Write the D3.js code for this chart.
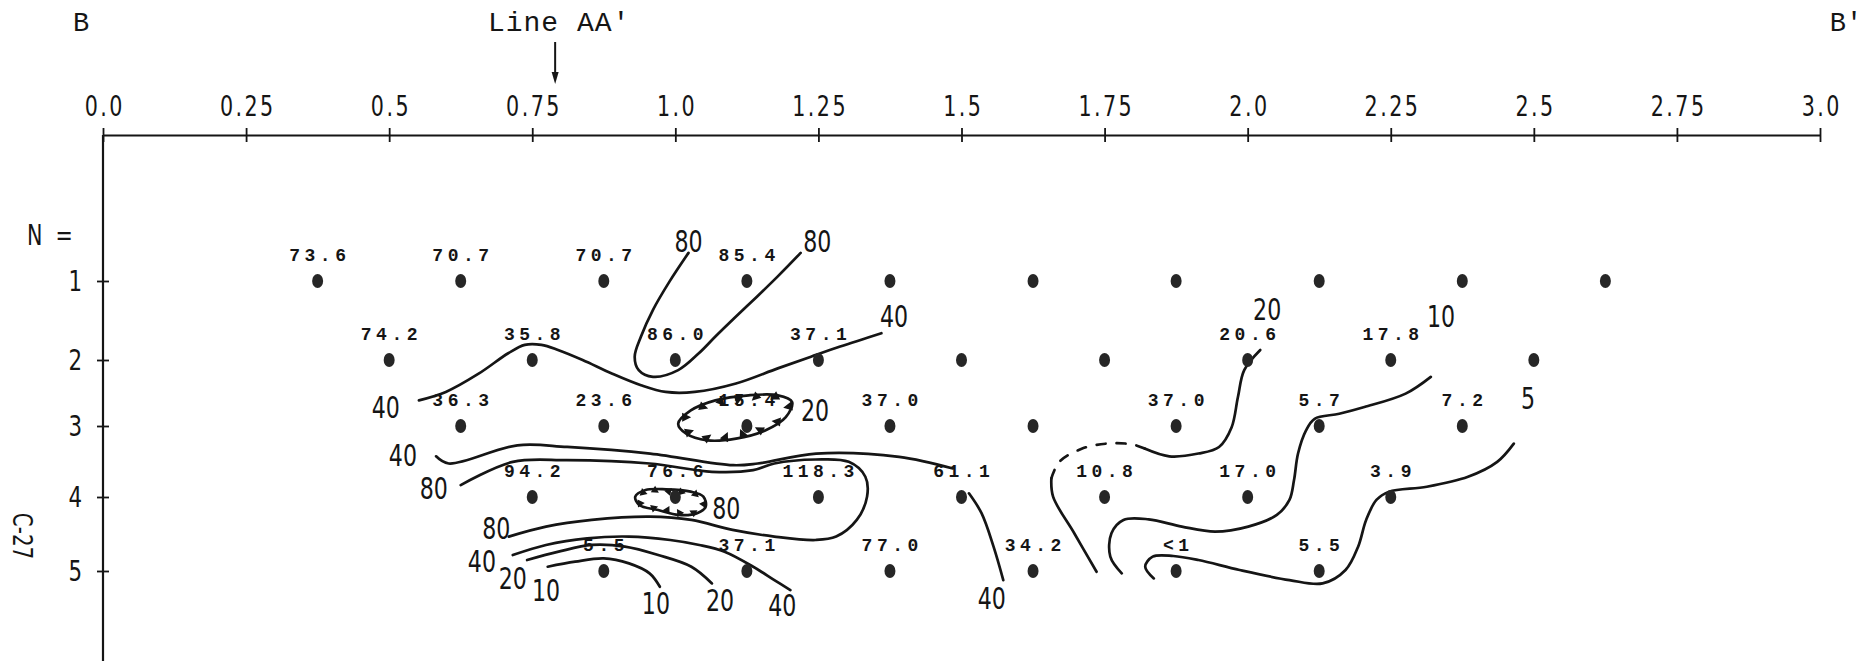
<!DOCTYPE html>
<html>
<head>
<meta charset="utf-8">
<script src="https://cdn.jsdelivr.net/npm/d3@7"></script>
<style>
  body { margin: 0; background: #fff; }
  svg { display: block; }
</style>
</head>
<body>
<svg width="1869" height="665"></svg>
<script>
// distance along line B-B' (top axis)
const distTicks = [0, 0.25, 0.5, 0.75, 1.0, 1.25, 1.5, 1.75, 2.0, 2.25, 2.5, 2.75, 3.0];
const distTickLabels = ['0.0', '0.25', '0.5', '0.75', '1.0', '1.25', '1.5', '1.75', '2.0', '2.25', '2.5', '2.75', '3.0'];
const rowTicks = [1, 2, 3, 4, 5];
const lineAAPosition = 0.79;

// sample points per N row: distance, printed value ('' = no value printed)
const row1Dist = [0.375, 0.625, 0.875, 1.125, 1.375, 1.625, 1.875, 2.125, 2.375, 2.625];
const row1Labels = ['73.6', '70.7', '70.7', '85.4', '', '', '', '', '', ''];
const row2Dist = [0.5, 0.75, 1.0, 1.25, 1.5, 1.75, 2.0, 2.25, 2.5];
const row2Labels = ['74.2', '35.8', '86.0', '37.1', '', '', '20.6', '17.8', ''];
const row3Dist = [0.625, 0.875, 1.125, 1.375, 1.625, 1.875, 2.125, 2.375];
const row3Labels = ['36.3', '23.6', '15.4', '37.0', '', '37.0', '5.7', '7.2'];
const row4Dist = [0.75, 1.0, 1.25, 1.5, 1.75, 2.0, 2.25];
const row4Labels = ['94.2', '76.6', '118.3', '61.1', '10.8', '17.0', '3.9'];
const row5Dist = [0.875, 1.125, 1.375, 1.625, 1.875, 2.125];
const row5Labels = ['5.5', '37.1', '77.0', '34.2', '<1', '5.5'];

// contour lines, [distance, N]
const contour80Top = [[1.023,0.644],[0.990,1.005],[0.961,1.365],[0.940,1.703],[0.929,1.958],[0.936,2.153],[0.961,2.255],[1.005,2.153],[1.041,1.915],[1.070,1.703],[1.106,1.45],[1.143,1.195],[1.179,0.941],[1.219,0.644]];
const contour40Upper = [[0.552,2.611],[0.599,2.484],[0.657,2.204],[0.708,1.915],[0.737,1.809],[0.766,1.809],[0.795,1.873],[0.838,2.0],[0.889,2.204],[0.940,2.382],[0.983,2.484],[1.034,2.484],[1.106,2.356],[1.179,2.127],[1.237,1.958],[1.288,1.830],[1.360,1.661]];
const contour40Mid = [[0.582,3.427],[0.604,3.528],[0.724,3.272],[0.811,3.295],[0.956,3.388],[1.101,3.552],[1.144,3.528],[1.246,3.388],[1.391,3.435],[1.485,3.598]];
const contour80Loop = [[0.625,3.832],[0.716,3.505],[0.810,3.482],[0.955,3.528],[1.064,3.645],[1.136,3.622],[1.173,3.528],[1.245,3.472],[1.303,3.505],[1.332,3.715],[1.335,3.995],[1.317,4.310],[1.281,4.535],[1.245,4.581],[1.173,4.535],[1.100,4.445],[1.028,4.310],[0.955,4.266],[0.854,4.310],[0.774,4.400],[0.709,4.535]];
const contour40Low = [[0.716,4.784],[0.774,4.648],[0.846,4.558],[0.919,4.535],[0.991,4.581],[1.042,4.648],[1.086,4.739],[1.136,4.942],[1.173,5.123],[1.201,5.258]];
const contour20Low = [[0.741,4.852],[0.796,4.739],[0.854,4.648],[0.912,4.671],[0.970,4.784],[1.028,4.942],[1.064,5.168]];
const contour10Low = [[0.777,4.942],[0.825,4.874],[0.875,4.829],[0.919,4.897],[0.955,5.032],[0.973,5.213]];
const contour40Right = [[1.513,3.948],[1.535,4.219],[1.556,4.671],[1.573,5.123]];
const contour20Lower = [[1.736,5.010],[1.697,4.490],[1.660,3.995],[1.657,3.738]];
const contour20Dashed = [[1.657,3.738],[1.671,3.505],[1.711,3.318],[1.754,3.248],[1.798,3.258],[1.820,3.318]];
const contour20Upper = [[1.820,3.318],[1.863,3.427],[1.914,3.388],[1.950,3.295],[1.972,3.017],[1.983,2.560],[1.994,2.153],[2.022,1.873]];
const contour10Right = [[2.320,2.255],[2.276,2.509],[2.204,2.713],[2.160,2.815],[2.117,2.891],[2.102,3.062],[2.088,3.388],[2.081,3.762],[2.073,4.040],[2.051,4.242],[2.001,4.400],[1.943,4.468],[1.885,4.400],[1.827,4.302],[1.783,4.310],[1.762,4.490],[1.760,4.806],[1.780,5.032]];
const contour5Right = [[2.465,3.248],[2.436,3.505],[2.385,3.715],[2.313,3.855],[2.247,3.925],[2.225,4.040],[2.207,4.310],[2.193,4.671],[2.171,4.987],[2.131,5.168],[2.073,5.123],[1.986,4.987],[1.914,4.852],[1.870,4.797],[1.834,4.806],[1.821,4.942],[1.836,5.100]];

// closed contours: low (around 15.4) and high (around 76.6)
const closedLow20 = [[1.005,2.965],[1.027,2.764],[1.070,2.611],[1.128,2.535],[1.179,2.535],[1.204,2.636],[1.193,2.865],[1.157,3.062],[1.106,3.178],[1.056,3.202],[1.019,3.108]];
const closedHigh80 = [[0.930,3.995],[0.948,3.902],[0.984,3.892],[1.027,3.925],[1.049,3.995],[1.053,4.131],[1.038,4.219],[1.006,4.242],[0.970,4.176],[0.937,4.108]];

const contourLabels = [
  [1.023, 0.495, '80'], [1.248, 0.495, '80'], [1.382, 1.45, '40'], [0.494, 2.713, '40'],
  [1.244, 2.764, '20'], [0.524, 3.412, '40'], [0.578, 3.878, '80'], [1.089, 4.153, '80'],
  [0.687, 4.423, '80'], [0.662, 4.874, '40'], [0.716, 5.100, '20'], [0.774, 5.258, '10'],
  [0.966, 5.439, '10'], [1.078, 5.394, '20'], [1.187, 5.461, '40'], [1.553, 5.371, '40'],
  [2.034, 1.36, '20'], [2.338, 1.45, '10'], [2.490, 2.585, '5']
];

const ink = '#151515';
const narrow = "'DejaVu Sans Condensed', 'Liberation Sans Narrow', 'DejaVu Sans', sans-serif";
const typewriter = "'Liberation Mono', 'DejaVu Sans Mono', monospace";
const squeeze = 0.82;

const svg = d3.select('svg');

const x = d3.scaleLinear().domain([0, 3]).range([103, 1820]);
const y = d3.scaleLinear().domain(rowTicks).range([281, 360, 426, 497, 571]);

const samples = [];
[[row1Dist, row1Labels], [row2Dist, row2Labels], [row3Dist, row3Labels],
 [row4Dist, row4Labels], [row5Dist, row5Labels]].forEach(([dists, labels], i) => {
  dists.forEach((d, j) => samples.push({ dist: d, n: i + 1, label: labels[j] }));
});

// top axis
const xAxis = d3.axisTop(x)
  .tickValues(distTicks)
  .tickFormat((d, i) => distTickLabels[i])
  .tickSize(7)
  .tickSizeOuter(0)
  .tickPadding(12);

const gx = svg.append('g')
  .attr('transform', 'translate(0,135)')
  .call(xAxis);
gx.select('.domain').attr('stroke', ink).attr('stroke-width', 2.2);
gx.selectAll('.tick line').attr('y1', 7).attr('y2', -7).attr('stroke', ink).attr('stroke-width', 1.8);
gx.selectAll('.tick text')
  .attr('fill', ink)
  .attr('font-family', narrow)
  .attr('font-size', 28)
  .attr('letter-spacing', 3)
  .attr('dx', 1.5)
  .attr('transform', `scale(${squeeze},1)`);

// left axis
const yAxis = d3.axisLeft(y)
  .tickValues(rowTicks)
  .tickFormat(d3.format('d'))
  .tickSize(6)
  .tickSizeOuter(0)
  .tickPadding(15);

const gy = svg.append('g')
  .attr('transform', `translate(${x(0)},0)`)
  .call(yAxis);
gy.select('.domain').attr('d', 'M0,135V661').attr('stroke', ink).attr('stroke-width', 2.2);
gy.selectAll('.tick line').attr('x1', 6).attr('x2', -6).attr('stroke', ink).attr('stroke-width', 1.8);
gy.selectAll('.tick text')
  .attr('fill', ink)
  .attr('font-family', narrow)
  .attr('font-size', 29)
  .attr('x', -21 / squeeze)
  .attr('transform', `scale(${squeeze},1)`);

// headings
const heads = svg.append('g').attr('fill', ink).attr('font-family', typewriter);
heads.append('text').attr('x', 81).attr('y', 31).attr('text-anchor', 'middle').attr('font-size', 27).text('B');
heads.append('text').attr('x', 1846).attr('y', 31).attr('text-anchor', 'middle').attr('font-size', 27).text("B'");
heads.append('text')
  .attr('x', x(lineAAPosition) + 4).attr('y', 31)
  .attr('text-anchor', 'middle')
  .attr('font-size', 28)
  .attr('letter-spacing', 1)
  .text("Line AA'");

const ax = x(lineAAPosition);
svg.append('line')
  .attr('x1', ax).attr('x2', ax).attr('y1', 42).attr('y2', 76)
  .attr('stroke', ink).attr('stroke-width', 2);
svg.append('path')
  .attr('d', `M${ax - 3.5},72L${ax + 3.5},72L${ax},84Z`)
  .attr('fill', ink);

svg.append('text')
  .attr('transform', `translate(27,245) scale(${squeeze},1)`)
  .attr('font-family', narrow).attr('font-size', 28).attr('fill', ink)
  .attr('xml:space', 'preserve')
  .text('N  =');

svg.append('text')
  .attr('transform', `translate(13,536) rotate(90) scale(${squeeze},1)`)
  .attr('text-anchor', 'middle')
  .attr('font-family', narrow).attr('font-size', 27).attr('fill', ink)
  .text('C-27');

// contours
const openLine = d3.line()
  .x(d => x(d[0]))
  .y(d => y(d[1]))
  .curve(d3.curveCatmullRom.alpha(0.5));
const closedLine = d3.line()
  .x(d => x(d[0]))
  .y(d => y(d[1]))
  .curve(d3.curveCatmullRomClosed.alpha(0.5));

const solidContours = [contour80Top, contour40Upper, contour40Mid, contour80Loop, contour40Low,
  contour20Low, contour10Low, contour40Right, contour20Lower, contour20Upper, contour10Right, contour5Right];

const gc = svg.append('g')
  .attr('fill', 'none')
  .attr('stroke', ink)
  .attr('stroke-width', 2.7)
  .attr('stroke-linecap', 'round')
  .attr('stroke-linejoin', 'round');

gc.selectAll('path.solid').data(solidContours).join('path')
  .attr('class', 'solid')
  .attr('d', openLine);

gc.append('path')
  .attr('d', openLine(contour20Dashed))
  .attr('stroke-dasharray', '9,11');

// closed contours with inward ticks
const hachured = [
  { pts: closedLow20, size: 9, half: 4.5, step: 20 },
  { pts: closedHigh80, size: 7, half: 4, step: 15 }
];
hachured.forEach(h => {
  const p = gc.append('path').attr('d', closedLine(h.pts));
  const node = p.node();
  const len = node.getTotalLength();
  const cx = d3.mean(h.pts, d => x(d[0]));
  const cy = d3.mean(h.pts, d => y(d[1]));
  const tris = [];
  for (let s = h.step / 2; s < len; s += h.step) {
    const pt = node.getPointAtLength(s);
    let ux = cx - pt.x, uy = cy - pt.y;
    const m = Math.hypot(ux, uy) || 1;
    ux /= m; uy /= m;
    const vx = -uy, vy = ux;
    tris.push(`M${pt.x + vx * h.half},${pt.y + vy * h.half}L${pt.x - vx * h.half},${pt.y - vy * h.half}L${pt.x + ux * h.size},${pt.y + uy * h.size}Z`);
  }
  svg.append('path')
    .attr('d', tris.join(''))
    .attr('fill', ink);
});

// sample dots and values
svg.append('g').selectAll('ellipse').data(samples).join('ellipse')
  .attr('cx', d => x(d.dist))
  .attr('cy', d => y(d.n))
  .attr('rx', 5.5)
  .attr('ry', 7)
  .attr('fill', '#262626');

const ls = 4.5;
svg.append('g').selectAll('text').data(samples.filter(d => d.label)).join('text')
  .attr('x', d => x(d.dist) + ls / 2)
  .attr('y', d => y(d.n) - 20)
  .attr('text-anchor', 'middle')
  .attr('font-family', typewriter)
  .attr('font-weight', 'bold')
  .attr('font-size', 18)
  .attr('letter-spacing', ls)
  .attr('fill', ink)
  .text(d => d.label);

// contour values
svg.append('g').selectAll('text').data(contourLabels).join('text')
  .attr('transform', d => `translate(${x(d[0])},${y(d[1])}) scale(${squeeze},1)`)
  .attr('dy', '0.36em')
  .attr('text-anchor', 'middle')
  .attr('font-family', narrow)
  .attr('font-size', 30)
  .attr('fill', ink)
  .text(d => d[2]);
</script>
</body>
</html>
